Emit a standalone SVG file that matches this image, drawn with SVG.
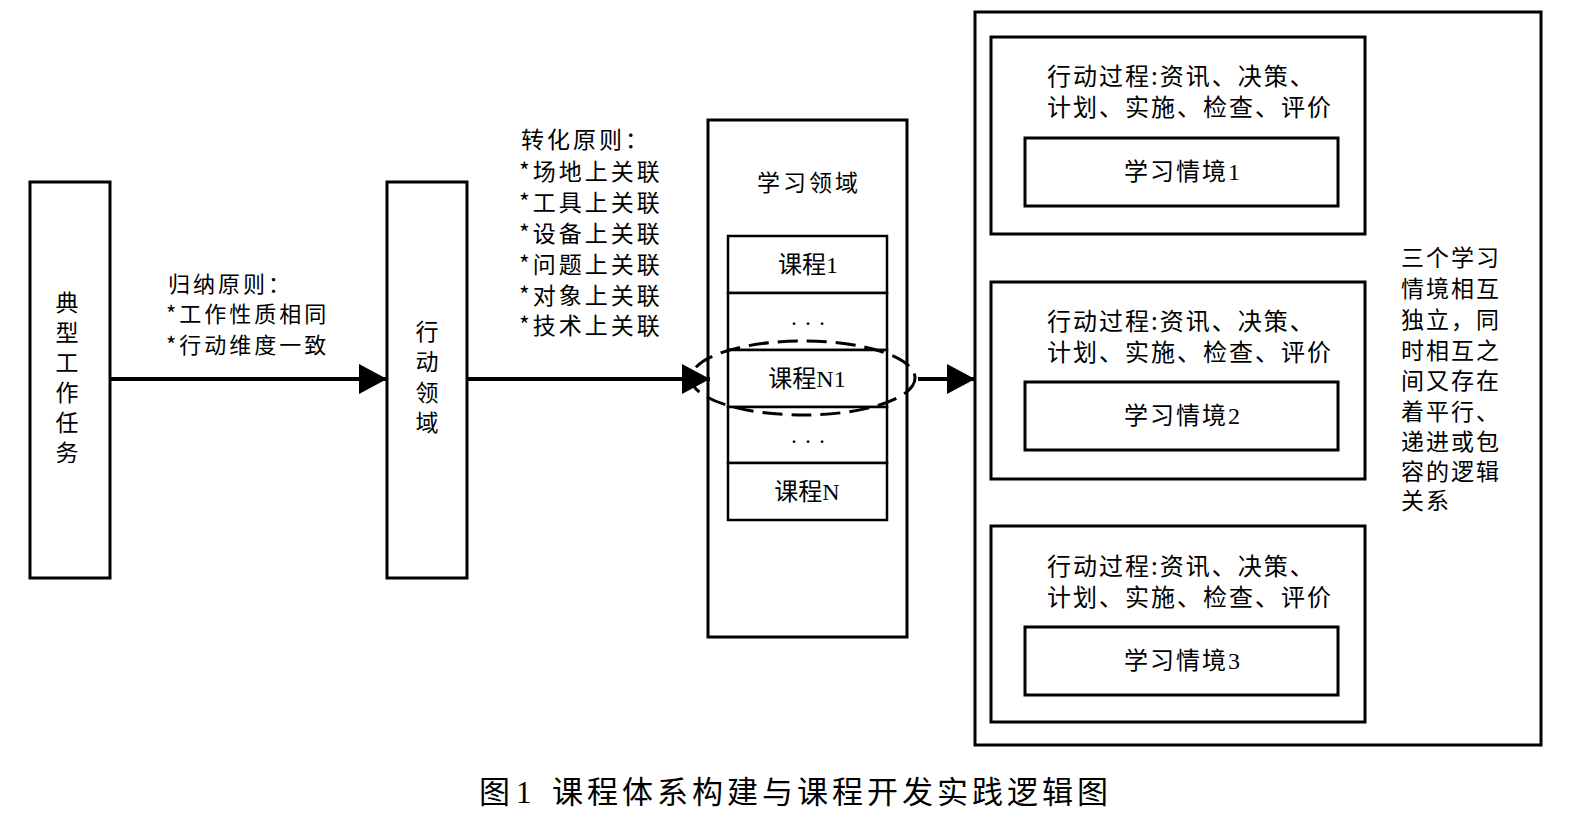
<svg xmlns="http://www.w3.org/2000/svg" width="1574" height="820" viewBox="0 0 1574 820">
<style>
.box{fill:#fff;stroke:#000;stroke-width:3}
.thin{fill:#fff;stroke:#000;stroke-width:2.5}
.t{font-family:"Noto Sans CJK SC","Noto Sans",sans-serif;fill:#000}
.s{font-family:"Liberation Serif","Noto Sans CJK SC",serif;fill:#000}
.c{text-anchor:middle}
.con{stroke:#000;stroke-width:4;fill:none}
</style>
<defs>
<marker id="ah" viewBox="0 0 28 30" refX="28" refY="15" markerWidth="28" markerHeight="30" markerUnits="userSpaceOnUse" orient="auto">
<path d="M0,0 L28,15 L0,30 z" fill="#000"/>
</marker>
</defs>
<rect width="1574" height="820" fill="#fff"/>

<g id="node-dxgzrw">
<rect class="box" x="30" y="182" width="80" height="396"/>
<text class="t c" font-size="23"><tspan x="67" y="311">典</tspan><tspan x="67" y="341">型</tspan><tspan x="67" y="371">工</tspan><tspan x="67" y="401">作</tspan><tspan x="67" y="431">任</tspan><tspan x="67" y="461">务</tspan></text>
</g>

<g id="node-xdly">
<rect class="box" x="387" y="182" width="80" height="396"/>
<text class="t c" font-size="23"><tspan x="427" y="340">行</tspan><tspan x="427" y="370">动</tspan><tspan x="427" y="401">领</tspan><tspan x="427" y="431">域</tspan></text>
</g>

<g id="label-guina">
<text class="t" font-size="22" letter-spacing="3"><tspan x="168" y="292">归纳原则：</tspan><tspan x="166" y="322">*工作性质相同</tspan><tspan x="166" y="353">*行动维度一致</tspan></text>
</g>

<g id="label-zhuanhua">
<text class="t" font-size="23" letter-spacing="3"><tspan x="521" y="148">转化原则：</tspan><tspan x="519" y="180">*场地上关联</tspan><tspan x="519" y="211">*工具上关联</tspan><tspan x="519" y="242">*设备上关联</tspan><tspan x="519" y="273">*问题上关联</tspan><tspan x="519" y="304">*对象上关联</tspan><tspan x="519" y="334">*技术上关联</tspan></text>
</g>

<g id="node-xxly">
<rect class="box" x="708" y="120" width="199" height="517"/>
<text class="t c" font-size="23" letter-spacing="3" x="809" y="191">学习领域</text>
<rect class="thin" x="728" y="236" width="159" height="57"/>
<rect class="thin" x="728" y="293" width="159" height="57"/>
<rect class="thin" x="728" y="350" width="159" height="57"/>
<rect class="thin" x="728" y="407" width="159" height="56"/>
<rect class="thin" x="728" y="463" width="159" height="57"/>
<text class="s c" font-size="24" x="808" y="273">课程1</text>
<text class="s c" font-size="24" x="808" y="331">·  ·  ·</text>
<text class="s c" font-size="24" x="807" y="387">课程N1</text>
<text class="s c" font-size="24" x="808" y="449">·  ·  ·</text>
<text class="s c" font-size="24" x="807" y="500">课程N</text>
<ellipse cx="803" cy="378" rx="112" ry="37" fill="none" stroke="#000" stroke-width="3" stroke-dasharray="20 9"/>
</g>

<g id="node-xxqj">
<rect class="box" x="975" y="12" width="566" height="733"/>
<rect class="box" x="991" y="37" width="374" height="197"/>
<text class="t" font-size="24" letter-spacing="2"><tspan x="1047" y="85">行动过程:资讯、决策、</tspan><tspan x="1047" y="116">计划、实施、检查、评价</tspan></text>
<rect class="box" x="1025" y="138" width="313" height="68"/>
<text class="s c" font-size="24" letter-spacing="2" x="1183" y="180">学习情境1</text>

<rect class="box" x="991" y="282" width="374" height="197"/>
<text class="t" font-size="24" letter-spacing="2"><tspan x="1047" y="330">行动过程:资讯、决策、</tspan><tspan x="1047" y="361">计划、实施、检查、评价</tspan></text>
<rect class="box" x="1025" y="382" width="313" height="68"/>
<text class="s c" font-size="24" letter-spacing="2" x="1183" y="424">学习情境2</text>

<rect class="box" x="991" y="526" width="374" height="196"/>
<text class="t" font-size="24" letter-spacing="2"><tspan x="1047" y="575">行动过程:资讯、决策、</tspan><tspan x="1047" y="606">计划、实施、检查、评价</tspan></text>
<rect class="box" x="1025" y="627" width="313" height="68"/>
<text class="s c" font-size="24" letter-spacing="2" x="1183" y="669">学习情境3</text>

<text class="t" font-size="23" letter-spacing="2"><tspan x="1401" y="266">三个学习</tspan><tspan x="1401" y="297">情境相互</tspan><tspan x="1401" y="328">独立，同</tspan><tspan x="1401" y="359">时相互之</tspan><tspan x="1401" y="389">间又存在</tspan><tspan x="1401" y="420">着平行、</tspan><tspan x="1401" y="450">递进或包</tspan><tspan x="1401" y="480">容的逻辑</tspan><tspan x="1401" y="509">关系</tspan></text>
</g>

<g id="connectors">
<line class="con" x1="110" y1="379" x2="387" y2="379" marker-end="url(#ah)"/>
<line class="con" x1="467" y1="379" x2="710" y2="379" marker-end="url(#ah)"/>
<line class="con" x1="918" y1="379" x2="975" y2="379" marker-end="url(#ah)"/>
</g>

<g id="caption">
<text class="s" font-size="31" y="803"><tspan x="479">图</tspan><tspan x="516">1</tspan><tspan x="552" letter-spacing="4">课程体系构建与课程开发实践逻辑图</tspan></text>
</g>
</svg>
